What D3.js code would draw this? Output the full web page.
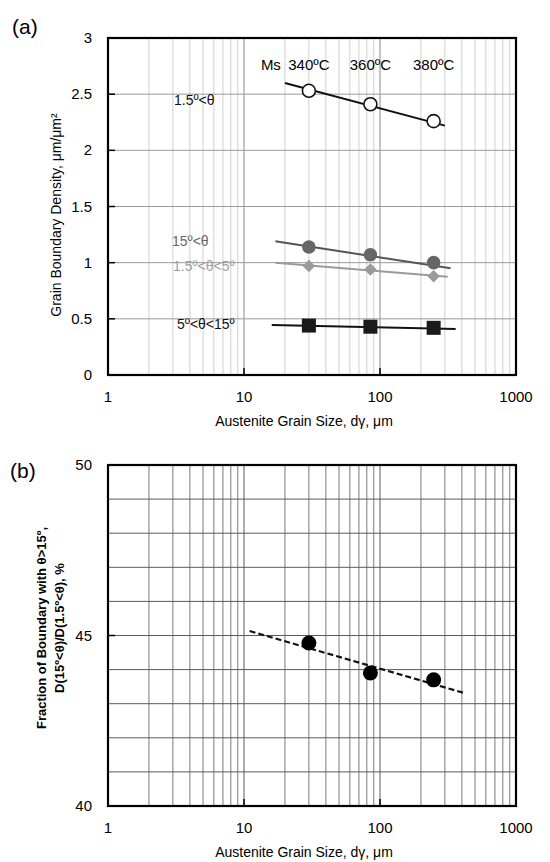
<!DOCTYPE html>
<html>
<head>
<meta charset="utf-8">
<script src="https://cdn.jsdelivr.net/npm/d3@7"></script>
<style>
  body { margin: 0; background: #fff; }
  svg text { font-family: "Liberation Sans", Arial, sans-serif; }
</style>
</head>
<body>
<svg id="chart" width="550" height="862"></svg>
<script>
// data
const grainSize = [30, 85, 248];
const msLabels = ["340ºC", "360ºC", "380ºC"];

const dens15All = [2.53, 2.41, 2.26];     // 1.5º<θ
const dens15Up = [1.14, 1.07, 1.00];      // 15º<θ
const dens1to5 = [0.97, 0.94, 0.88];      // 1.5º<θ<5º
const dens5to15 = [0.44, 0.43, 0.42];     // 5º<θ<15º

const fit15All = [[20, 2.60], [300, 2.22]];
const fit15Up = [[17, 1.19], [330, 0.95]];
const fit1to5 = [[17, 1.00], [315, 0.875]];
const fit5to15 = [[16, 0.445], [360, 0.41]];

const fraction = [44.78, 43.9, 43.7];
const fitFraction = [[11, 45.13], [420, 43.31]];

const xTicks = [1, 10, 100, 1000];
const yTicksA = [0, 0.5, 1, 1.5, 2, 2.5, 3];
const yTicksB = [40, 45, 50];

// layout
const plotLeft = 108, plotRight = 516;
const aTop = 38, aBottom = 375;
const bTop = 465, bBottom = 806;

const svg = d3.select("#chart");

const x = d3.scaleLog().domain([1, 1000]).range([plotLeft, plotRight]);
const yA = d3.scaleLinear().domain([0, 3]).range([aBottom, aTop]);
const yB = d3.scaleLinear().domain([40, 50]).range([bBottom, bTop]);

// minor values 2..9 in each decade
let minorX = [];
[1, 10, 100].forEach(d => { for (let k = 2; k <= 9; k++) minorX.push(d * k); });

function drawFrame(g, y, top, bottom, opts) {
    // vertical grid
    g.selectAll(".vgrid").data(minorX.concat([10, 100])).enter().append("line")
        .attr("x1", d => x(d)).attr("x2", d => x(d))
        .attr("y1", top).attr("y2", bottom)
        .style("stroke", d => (d === 10 || d === 100) ? opts.majorColor : opts.minorColor)
        .style("stroke-width", 1);
    // horizontal grid
    g.selectAll(".hgrid").data(opts.hGrid).enter().append("line")
        .attr("x1", plotLeft).attr("x2", plotRight)
        .attr("y1", d => y(d)).attr("y2", d => y(d))
        .style("stroke", opts.hColor)
        .style("stroke-width", 1);
    // inside ticks
    g.selectAll(".xtick").data([10, 100]).enter().append("line")
        .attr("x1", d => x(d)).attr("x2", d => x(d))
        .attr("y1", bottom).attr("y2", bottom - 7)
        .style("stroke", "#000").style("stroke-width", 1.5);
    g.selectAll(".ytick").data(opts.yTicks).enter().append("line")
        .attr("x1", plotLeft).attr("x2", plotLeft + 7)
        .attr("y1", d => y(d)).attr("y2", d => y(d))
        .style("stroke", "#000").style("stroke-width", 1.5);
    // border
    g.append("rect")
        .attr("x", plotLeft).attr("y", top)
        .attr("width", plotRight - plotLeft).attr("height", bottom - top)
        .style("fill", "none").style("stroke", "#000").style("stroke-width", 2.2);
    // tick labels
    g.selectAll(".xlab").data(xTicks).enter().append("text")
        .attr("x", d => x(d)).attr("y", bottom + 27)
        .attr("text-anchor", "middle")
        .style("font-size", "15px")
        .text(d => d);
    g.selectAll(".ylab").data(opts.yTicks).enter().append("text")
        .attr("x", plotLeft - 16).attr("y", d => y(d) + 5)
        .attr("text-anchor", "end")
        .style("font-size", "15px")
        .text(d => d);
    // x title
    g.append("text")
        .attr("x", (plotLeft + plotRight) / 2 - 8).attr("y", bottom + 51)
        .attr("text-anchor", "middle")
        .style("font-size", "14px")
        .text("Austenite Grain Size, dγ, μm");
}

const line = d3.line().x(d => x(d[0]));

// panel (a)
const gA = svg.append("g");
drawFrame(gA, yA, aTop, aBottom, {
    majorColor: "#8a8a8a", minorColor: "#cfcfcf", hColor: "#9a9a9a",
    hGrid: yTicksA, yTicks: yTicksA
});

const lineA = line.y(d => yA(d[1]));
const fits = [
    { pts: fit15All, color: "#111" },
    { pts: fit15Up, color: "#555" },
    { pts: fit1to5, color: "#9a9a9a" },
    { pts: fit5to15, color: "#111" }
];
fits.forEach(f => {
    gA.append("path").attr("d", lineA(f.pts))
      .style("fill", "none").style("stroke", f.color).style("stroke-width", 2);
});

gA.selectAll(".c1").data(grainSize).enter().append("circle")
    .attr("cx", d => x(d)).attr("cy", (d, i) => yA(dens15All[i])).attr("r", 6.5)
    .style("fill", "#fff").style("stroke", "#111").style("stroke-width", 1.6);

gA.selectAll(".c2").data(grainSize).enter().append("circle")
    .attr("cx", d => x(d)).attr("cy", (d, i) => yA(dens15Up[i])).attr("r", 6.8)
    .style("fill", "#666");

gA.selectAll(".dia").data(grainSize).enter().append("path")
    .attr("transform", (d, i) => `translate(${x(d)},${yA(dens1to5[i])})`)
    .attr("d", d3.symbol().type(d3.symbolDiamond2).size(100))
    .style("fill", "#9a9a9a");

gA.selectAll(".sq").data(grainSize).enter().append("rect")
    .attr("x", d => x(d) - 7).attr("y", (d, i) => yA(dens5to15[i]) - 7)
    .attr("width", 14).attr("height", 14)
    .style("fill", "#1a1a1a");

// Ms labels
gA.selectAll(".ms").data(grainSize).enter().append("text")
    .attr("x", d => x(d)).attr("y", 70)
    .attr("text-anchor", "middle")
    .style("font-size", "15px")
    .text((d, i) => msLabels[i]);
gA.append("text").attr("x", x(grainSize[0]) - 28).attr("y", 70)
    .attr("text-anchor", "end").style("font-size", "15px").text("Ms");

// series labels
const seriesLabels = [
    { t: "1.5º<θ", x: 174, y: 105, c: "#111" },
    { t: "15º<θ", x: 172, y: 246, c: "#666" },
    { t: "1.5º<θ<5º", x: 173, y: 271, c: "#a0a0a0" },
    { t: "5º<θ<15º", x: 177, y: 329, c: "#111" }
];
gA.selectAll(".sl").data(seriesLabels).enter().append("text")
    .attr("x", d => d.x).attr("y", d => d.y)
    .style("font-size", "14px").style("fill", d => d.c)
    .text(d => d.t);

gA.append("text")
    .attr("transform", "translate(61,215) rotate(-90)")
    .attr("text-anchor", "middle")
    .style("font-size", "14px")
    .text("Grain Boundary Density, μm/μm²");

svg.append("text").attr("x", 12).attr("y", 34)
    .style("font-size", "21px").text("(a)");

// panel (b)
const gB = svg.append("g");
drawFrame(gB, yB, bTop, bBottom, {
    majorColor: "#5a5a5a", minorColor: "#7a7a7a", hColor: "#5a5a5a",
    hGrid: d3.range(41, 50), yTicks: yTicksB
});

const lineB = line.y(d => yB(d[1]));
gB.append("path").attr("d", lineB(fitFraction))
    .style("fill", "none").style("stroke", "#111")
    .style("stroke-width", 2.2).style("stroke-dasharray", "6,3");

gB.selectAll(".fc").data(grainSize).enter().append("circle")
    .attr("cx", d => x(d)).attr("cy", (d, i) => yB(fraction[i])).attr("r", 7.5)
    .style("fill", "#000");

gB.append("text")
    .attr("transform", "translate(46,628) rotate(-90)")
    .attr("text-anchor", "middle")
    .style("font-size", "13px").style("font-weight", "bold")
    .text("Fraction of Boundary with θ>15º,");
gB.append("text")
    .attr("transform", "translate(64,628) rotate(-90)")
    .attr("text-anchor", "middle")
    .style("font-size", "13px").style("font-weight", "bold")
    .text("D(15º<θ)/D(1.5º<θ), %");

svg.append("text").attr("x", 10).attr("y", 478)
    .style("font-size", "21px").text("(b)");
</script>
</body>
</html>
